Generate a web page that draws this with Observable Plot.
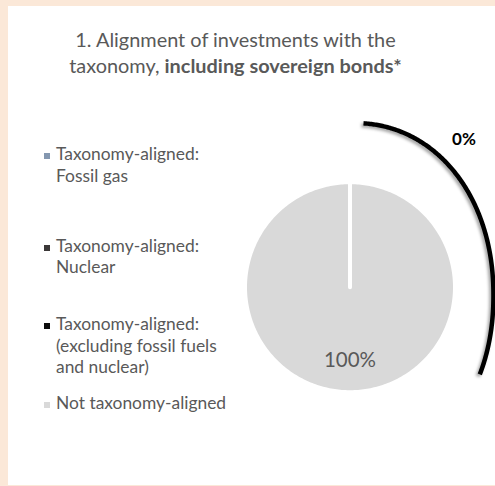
<!DOCTYPE html>
<html><head><meta charset="utf-8">
<script src="https://cdn.jsdelivr.net/npm/d3@7"></script>
<script src="https://cdn.jsdelivr.net/npm/@observablehq/plot@0.6"></script>
<style>
html,body{margin:0;padding:0;}
body{width:495px;height:486px;background:#FBE8D8;position:relative;overflow:hidden;font-family:Lato,"Open Sans",sans-serif;color:#595959;}
#panel{position:absolute;left:8px;top:6px;width:487px;height:479px;background:#fff;}
#title{position:absolute;left:0;width:471px;top:26px;text-align:center;font-size:19.9px;line-height:26px;}
#title b{font-weight:700;}
.item{position:absolute;left:56px;font-size:17.4px;line-height:21.5px;white-space:nowrap;}
.sw{position:absolute;left:-12.5px;top:10px;width:6px;height:6px;}
#chart{position:absolute;left:240px;top:100px;}
</style></head><body>
<div id="panel"></div>
<div id="title">1. Alignment of investments with the<br>taxonomy, <b>including sovereign bonds*</b></div>
<div id="legend"></div>
<div id="chart"></div>
<script>
// ---- data ----
const categories = [
  "Taxonomy-aligned: Fossil gas",
  "Taxonomy-aligned: Nuclear",
  "Taxonomy-aligned: (excluding fossil fuels and nuclear)",
  "Not taxonomy-aligned"
];
const legendLines = [
  ["Taxonomy-aligned:", "Fossil gas"],
  ["Taxonomy-aligned:", "Nuclear"],
  ["Taxonomy-aligned:", "(excluding fossil fuels", "and nuclear)"],
  ["Not taxonomy-aligned"]
];
const values = [0, 0, 0, 100];
const colors = ["#8497B0", "#3B3838", "#0D0D0D", "#D9D9D9"];
const alignedIdx = [0, 1, 2];

// ---- layout (styling, not data) ----
const legendTops = [143, 234.5, 313, 391.5];
const arcCenter = [0.033, -0.079];   // bracket arc, in pie-radius units
const arcRadii = [1.333, 1.643];
const arcExp = 2.1;
const arcT = [-86.4, 26.5];

// legend
const leg = document.getElementById("legend");
legendLines.forEach((lines, i) => {
  const d = document.createElement("div");
  d.className = "item";
  d.style.top = legendTops[i] + "px";
  d.innerHTML = `<span class="sw" style="background:${colors[i]}"></span>` + lines.join("<br>");
  leg.appendChild(d);
});

// pie geometry in data units (radius 1, angle clockwise from top)
const total = d3.sum(values);
const arcs = d3.pie().sort(null).value(d => d)(values);
const slices = arcs.map((a, i) => {
  const pts = [{x: 0, y: 0}];
  const n = Math.max(1, Math.ceil((a.endAngle - a.startAngle) / (Math.PI / 180)));
  for (let k = 0; k <= n; k++) {
    const t = a.startAngle + (a.endAngle - a.startAngle) * k / n;
    pts.push({x: Math.sin(t), y: Math.cos(t)});
  }
  pts.push({x: 0, y: 0});
  return {pts, color: colors[i], mid: (a.startAngle + a.endAngle) / 2, value: values[i]};
});

const fmt = v => Math.round(v / total * 100) + "%";
const mainSlice = slices[3];
const alignedShare = d3.sum(alignedIdx, i => values[i]);

// bracket arc
const e = 2 / arcExp;
const sp = (v) => Math.sign(v) * Math.pow(Math.abs(v), e);
const arcPt = (deg) => {
  const t = deg * Math.PI / 180;
  return {x: arcCenter[0] + arcRadii[0] * sp(Math.cos(t)), y: arcCenter[1] - arcRadii[1] * sp(Math.sin(t))};
};
const arcPts = d3.range(arcT[0], arcT[1] + 0.01, 0.5).map(arcPt);
const labelPt = arcPt(-58);

const R = 105, cx = 109.5, cy = 186.7;
const svg = Plot.plot({
  width: 255, height: 380, margin: 0,
  x: {domain: [-1, 1], range: [cx - R, cx + R], axis: null},
  y: {domain: [-1, 1], range: [cy + R, cy - R], axis: null},
  marks: [
    ...slices.map(s => Plot.line(s.pts, {x: "x", y: "y", fill: s.color, stroke: "#fff", strokeWidth: 4, strokeLinejoin: "round"})),
    Plot.text([mainSlice], {x: d => 0.7 * Math.sin(d.mid), y: d => 0.7 * Math.cos(d.mid), text: d => fmt(d.value), fill: "#595959", fontSize: 20.5, fontFamily: "Lato"}),
    Plot.text([labelPt], {x: "x", y: "y", text: () => fmt(alignedShare), dx: 34, dy: -8, fill: "#000", fontSize: 17, fontWeight: "bold", fontFamily: "Lato"}),
    Plot.line(arcPts, {x: "x", y: "y", stroke: "#000", strokeWidth: 4.5, strokeLinecap: "butt"})
  ]
});
svg.style.overflow = "visible";
const gs = svg.querySelectorAll('g[aria-label="line"]');
gs[gs.length - 1].style.filter = "drop-shadow(-2px 2px 1.5px rgba(0,0,0,0.35))";
document.getElementById("chart").appendChild(svg);
</script>
</body></html>
